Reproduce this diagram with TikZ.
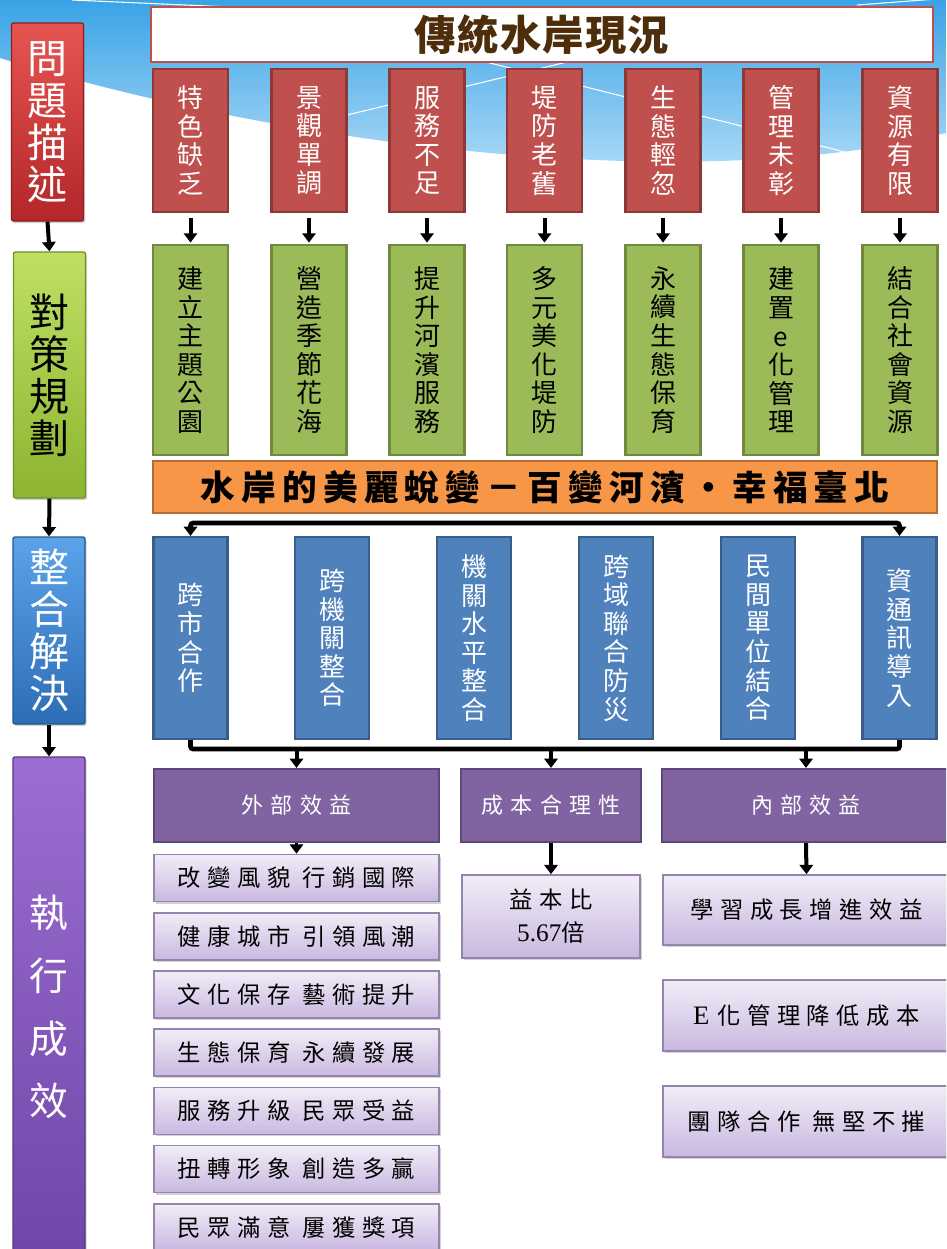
\documentclass[tikz,border=0pt]{standalone}
\usepackage{fontspec}
\setmainfont{Noto Sans CJK TC}
\newfontfamily\serifl{Liberation Serif}
\usetikzlibrary{arrows.meta,shadows}
\newdimen\px \px=0.75pt
\definecolor{cRed}{HTML}{C0504D}
\definecolor{cRedD}{HTML}{8C3836}
\definecolor{cGrn}{HTML}{9BBB59}
\definecolor{cGrnD}{HTML}{71893F}
\definecolor{cBlu}{HTML}{4F81BD}
\definecolor{cBluD}{HTML}{385D8A}
\definecolor{cPur}{HTML}{8064A2}
\definecolor{cPurD}{HTML}{5C4776}
\definecolor{cOrg}{HTML}{F79646}
\definecolor{cOrgD}{HTML}{B66D31}
\definecolor{cLtop}{HTML}{F1EDF7}
\definecolor{cLbot}{HTML}{C9B8E0}
\definecolor{cLbd}{HTML}{9585AE}
\definecolor{cTitle}{HTML}{4E2E0A}
\definecolor{skyA}{HTML}{3AA3E6}
\definecolor{skyB}{HTML}{BDE2F9}
\definecolor{lRedT}{HTML}{E65550}
\definecolor{lRedB}{HTML}{B3262A}
\definecolor{lGrnT}{HTML}{BEE064}
\definecolor{lGrnB}{HTML}{8DB530}
\definecolor{lBluT}{HTML}{5BA3EA}
\definecolor{lBluB}{HTML}{2D6DB6}
\definecolor{lPurT}{HTML}{9C6ED2}
\definecolor{lPurB}{HTML}{7046A8}
\begin{document}
\begin{tikzpicture}[x=0.75pt,y=-0.75pt,
  every node/.style={inner sep=0pt, align=center},
  arr/.style={line width=3pt, -{Triangle[width=10pt,length=7pt]}},
  rail/.style={line width=3.5pt, rounded corners=2pt},
  cbox/.style={draw, line width=1.6pt},
  shad/.style={drop shadow={opacity=0.35, shadow xshift=1.2pt, shadow yshift=-1.5pt}},
  vfont/.style={font=\fontsize{19.5pt}{21.4pt}\selectfont},
  redbox/.style={cbox, fill=cRed, draw=cRedD, text=white, minimum width=75\px, minimum height=143\px, vfont},
  grnbox/.style={cbox, fill=cGrn, draw=cGrnD, text=black, minimum width=75\px, minimum height=210\px, vfont},
  blubox/.style={cbox, fill=cBlu, draw=cBluD, text=white, minimum width=74\px, minimum height=202\px, vfont},
  hdrbox/.style={cbox, fill=cPur, draw=cPurD, text=white, minimum height=73\px,
     font=\fontsize{16.5pt}{20pt}\selectfont\addfontfeature{LetterSpace=32}},
  ltbox/.style={draw=cLbd, line width=1.2pt, top color=cLtop, bottom color=cLbot, text=black, shad,
     font=\fontsize{17.5pt}{24.75pt}\selectfont\addfontfeature{LetterSpace=28}},
  leftbox/.style={draw, line width=1pt, rounded corners=1.5pt, shad, minimum width=72\px,
     font=\fontsize{30pt}{31.5pt}\selectfont}
]
\useasboundingbox (0,0) rectangle (946,1249);
\clip (0,0) rectangle (946,1249);
\fill[white] (0,0) rectangle (946,1249);
% sky background
\shade[top color=skyA, bottom color=skyB] (0,0) -- (946,0) -- (946,133) .. controls (700,195) and (300,150) .. (0,58) -- cycle;
\draw[white, line width=0.8pt] (72,0) -- (253,8);
\draw[white, line width=0.8pt] (347,115) -- (567,62);
\draw[white, line width=0.8pt] (486,62) -- (845,152);
\draw[white, line width=0.8pt] (857,5) -- (950,-2);

% left column
\node[leftbox, draw=lRedB!80!black, top color=lRedT, bottom color=lRedB, text=white, minimum height=198\px] (p1) at (47.5,122) {問\\題\\描\\述};
\node[leftbox, draw=lGrnB!80!black, top color=lGrnT, bottom color=lGrnB, text=black, minimum height=246\px] (p2) at (49.5,375) {對\\策\\規\\劃};
\node[leftbox, draw=lBluB!80!black, top color=lBluT, bottom color=lBluB, text=white, minimum height=187\px] (p3) at (49,630.5) {整\\合\\解\\決};
\node[leftbox, draw=lPurB!80!black, top color=lPurT, bottom color=lPurB, text=white, minimum height=500\px,
   font=\fontsize{29pt}{47pt}\selectfont] (p4) at (49,1007) {執\\行\\成\\效};
\draw[arr] (p1.south) -- (p2.north);
\draw[arr] (p2.south) -- (p3.north);
\draw[arr] (p3.south) -- (p4.north);

% title
\node[draw=cRed, line width=2pt, fill=white, minimum width=782\px, minimum height=55\px, text=cTitle,
   font=\fontsize{31pt}{34pt}\selectfont\bfseries\addfontfeature{LetterSpace=3}] (title) at (542,34.5) {傳統水岸現況};

% red and green rows
\foreach \i/\x/\ta/\tb in {1/190.5/特\\色\\缺\\乏/建\\立\\主\\題\\公\\園,
                          2/309/景\\觀\\單\\調/營\\造\\季\\節\\花\\海,
                          3/427/服\\務\\不\\足/提\\升\\河\\濱\\服\\務,
                          4/544.5/堤\\防\\老\\舊/多\\元\\美\\化\\堤\\防,
                          5/663/生\\態\\輕\\忽/永\\續\\生\\態\\保\\育,
                          6/781/管\\理\\未\\彰/建\\置\\e\\化\\管\\理,
                          7/900/資\\源\\有\\限/結\\合\\社\\會\\資\\源}{
  \node[redbox] (r\i) at (\x,140.5) {\ta};
  \node[grnbox] (g\i) at (\x,350) {\tb};
  \draw[arr, shorten <=4pt, shorten >=1pt] (r\i.south) -- (g\i.north);
}

% orange banner
\node[cbox, fill=cOrg, draw=cOrgD, minimum width=784\px, minimum height=52\px,
   font=\fontsize{26pt}{30pt}\selectfont\bfseries\addfontfeature{LetterSpace=18}] (banner) at (545,487)
   {水岸的美麗蛻變－百變河濱•幸福臺北};

% blue row
\foreach \i/\x/\t in {1/190.5/跨\\市\\合\\作,
                      2/332/跨\\機\\關\\整\\合,
                      3/474/機\\關\\水\\平\\整\\合,
                      4/616/跨\\域\\聯\\合\\防\\災,
                      5/758/民\\間\\單\\位\\結\\合,
                      6/899.5/資\\通\\訊\\導\\入}{
  \node[blubox] (b\i) at (\x,638) {\t};
}
\coordinate (rt) at (545,523);
\coordinate (rb) at (545,749);
\draw[rail, {Triangle[width=10pt,length=7pt]}-{Triangle[width=10pt,length=7pt]}] (b1.north) |- (rt) -| (b6.north);
\draw[rail] (b1.south) |- (rb) -| (b6.south);

% purple headers
\node[hdrbox, minimum width=285\px] (ext) at (296.5,805.5) {外部效益};
\node[hdrbox, minimum width=180\px] (cost) at (551,805.5) {成本合理性};
\node[hdrbox, minimum width=288\px] (int) at (806,805.5) {內部效益};
\draw[arr] (ext.north |- rb) -- (ext.north);
\draw[arr] (cost.north |- rb) -- (cost.north);
\draw[arr] (int.north |- rb) -- (int.north);

% external benefits
\foreach \i/\y/\t in {1/878/改變風貌 行銷國際,
                      2/936.2/健康城市 引領風潮,
                      3/994.4/文化保存 藝術提升,
                      4/1052.6/生態保育 永續發展,
                      5/1110.8/服務升級 民眾受益,
                      6/1169/扭轉形象 創造多贏,
                      7/1227.2/民眾滿意 屢獲獎項}{
  \node[ltbox, minimum width=285\px, minimum height=47\px] (x\i) at (296.5,\y) {\t};
}
\draw[arr, line width=2.5pt] (ext.south) -- (x1.north);

% cost
\node[ltbox, minimum width=178\px, minimum height=83\px] (c1) at (551,916.5) {益本比\\{\serifl\fontsize{19pt}{24.75pt}\selectfont 5.67}倍};
\draw[arr] (cost.south) -- (c1.north);

% internal
\node[ltbox, minimum width=287\px, minimum height=70\px] (i1) at (806.5,910) {學習成長增進效益};
\node[ltbox, minimum width=287\px, minimum height=71\px] (i2) at (806.5,1015.5) {{\serifl\fontsize{20pt}{24.75pt}\selectfont E}\hspace{6pt}化管理降低成本};
\node[ltbox, minimum width=287\px, minimum height=71\px] (i3) at (806.5,1121.5) {團隊合作 無堅不摧};
\draw[arr] (int.south) -- (i1.north);
\end{tikzpicture}
\end{document}
